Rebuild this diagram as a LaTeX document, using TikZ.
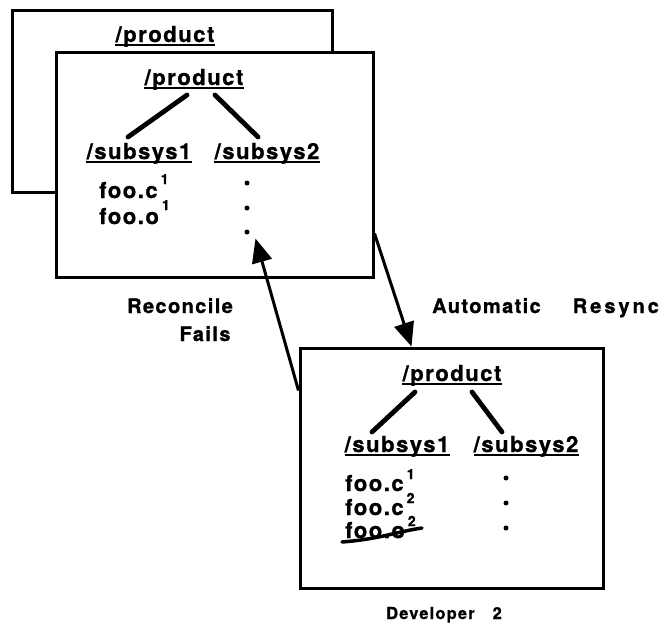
\documentclass[tikz,border=0pt]{standalone}
\usepackage{fontspec}
\newfontfamily\hv{texgyreheros-bold}[Extension=.otf, LetterSpace=7, FakeBold=1]
\usetikzlibrary{arrows.meta,calc}
\tikzset{
  box/.style={draw, line width=3pt, fill=white, minimum width=#1, inner sep=0pt},
  dirname/.style={font=\hv\fontsize{22}{22}\selectfont, inner sep=0pt, anchor=base},
  file/.style={font=\hv\fontsize{22}{22}\selectfont, inner sep=0pt, anchor=base west},
  caption/.style={font=\hv\fontsize{20}{20}\selectfont, inner sep=0pt, anchor=base},
  smallcap/.style={font=\hv\fontsize{16.5}{16.5}\selectfont, inner sep=0pt, anchor=base},
  ul/.style={line width=2.2pt},
  tree/.style={line width=4.8pt, line cap=round},
  arr/.style={line width=3pt, -{Triangle[length=24pt, width=20pt]}},
  dot/.style={circle, fill, inner sep=0pt, minimum size=5pt}
}
\newcommand\vsup[2]{\hspace{3pt}\raisebox{#1}{\fontsize{14}{14}\selectfont #2}}
\begin{document}
\begin{tikzpicture}[x=1pt, y=-1pt]
\useasboundingbox (0,0) rectangle (671,629);
% boxes
\node[box=320pt, minimum height=182pt] (back) at (172,101) {};
\node[box=317pt, minimum height=225pt] (front) at (214.5,164.5) {};
\node[box=303pt, minimum height=240pt] (dev) at (451.5,468) {};
% back box
\node[dirname] (bp) at (165,42) {/product};
% front box
\node[dirname] (fp) at (194,85) {/product};
\node[dirname] (fs1) at (139,159) {/subsys1};
\node[dirname] (fs2) at (267,159) {/subsys2};
\node[file] (fc) at (99,198) {foo.c\vsup{14pt}{1}};
\node[file] (fo) at (99,224) {foo.o\vsup{14pt}{1}};
\node[dot] (fd1) at (247,183) {};
\node[dot] (fd2) at (247,208) {};
\node[dot] (fd3) at (247,232) {};
% dev box
\node[dirname] (dp) at (452,381) {/product};
\node[dirname] (ds1) at (397,452) {/subsys1};
\node[dirname] (ds2) at (526,452) {/subsys2};
\node[file] (dc1) at (345,491) {foo.c\vsup{12pt}{1}};
\node[file] (dc2) at (345,515) {foo.c\vsup{12pt}{2}};
\node[file] (dco) at (345,538) {foo.o\vsup{12pt}{2}};
\node[dot] (dd1) at (506,478) {};
\node[dot] (dd2) at (506,503) {};
\node[dot] (dd3) at (506,528) {};
% underlines
\foreach \n in {bp,fp,fs1,fs2,dp,ds1,ds2}
  \draw[ul] ([yshift=-3pt]\n.base west) -- ([yshift=-3pt]\n.base east);
% tree lines
\draw[tree] ($(fp.base)+(-7,10)$) -- ($(fs1.base)+(-11,-22)$);
\draw[tree] ($(fp.base)+(21,10)$) -- ($(fs2.base)+(-9,-22)$);
\draw[tree] ($(dp.base)+(-37,11)$) -- ($(ds1.base)+(-25,-20)$);
\draw[tree] ($(dp.base)+(20,11)$) -- ($(ds2.base)+(-24,-20)$);
% strike-out
\draw[line width=3.5pt, line cap=round] ($(dco.base west)+(-3,4)$) .. controls ($(dco.base west)+(35,1)$) and ($(dco.base west)+(50,-6)$) .. ($(dco.base west)+(77,-10)$);
% arrows
\draw[arr] ($(front.south east)+(0,-45)$) -- ($(dev.north west)+(113,0)$);
\draw[arr] ($(dev.north west)+(0,44)$) -- ($(front.south west)+(201,-40)$);
% captions
\node[caption] (rec) at (180,313) {Reconcile};
\node[caption] (fails) at (205,341) {Fails};
\node[caption, anchor=base west] (auto) at (432,313) {Automatic\hspace{32pt}{\addfontfeature{LetterSpace=15}Resync}};
\node[smallcap] (devl) at (444,619) {Developer\hspace{18pt}2};
\end{tikzpicture}
\end{document}
